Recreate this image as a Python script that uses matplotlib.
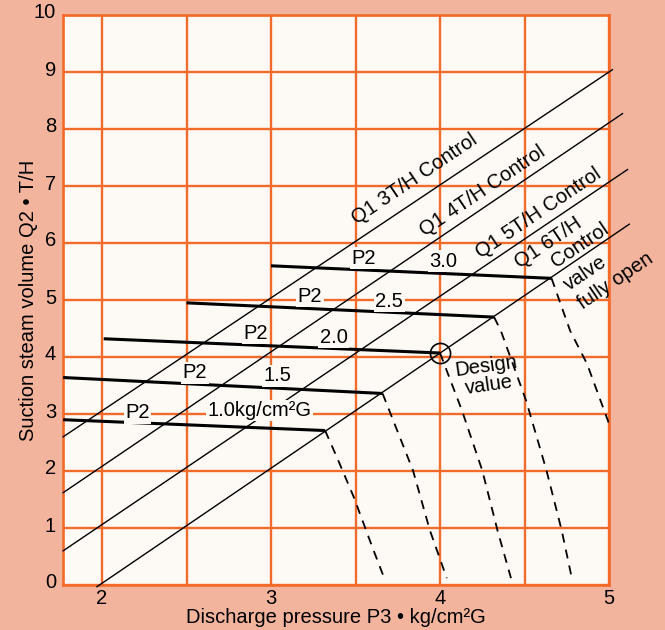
import matplotlib.pyplot as plt
import matplotlib.transforms as mtransforms
import numpy as np

# Q1 control lines (diagonals): start / end points
q1_labels = ['Q1 3T/H Control', 'Q1 4T/H Control', 'Q1 5T/H Control']
q1_start_x = [1.77, 1.77, 1.77, 1.97]
q1_start_y = [2.60, 1.62, 0.60, -0.03]
q1_end_x = [5.02, 5.08, 5.11, 5.12]
q1_end_y = [9.04, 8.27, 7.29, 6.33]

# P2 constant lines (thick)
p2_levels = ['1.0kg/cm²G', '1.5', '2.0', '2.5', '3.0']
p2_start_x = [1.77, 1.77, 2.01, 2.50, 3.00]
p2_start_y = [2.90, 3.64, 4.32, 4.95, 5.60]
p2_end_x = [3.32, 3.66, 4.00, 4.32, 4.66]
p2_end_y = [2.71, 3.36, 4.07, 4.70, 5.38]

# dashed curves dropping from each corner
dash_x = [
    [3.32, 3.39, 3.49, 3.60, 3.67],
    [3.66, 3.74, 3.84, 3.94, 4.04],
    [4.00, 4.13, 4.25, 4.34, 4.42],
    [4.32, 4.36, 4.51, 4.63, 4.72, 4.78],
    [4.66, 4.77, 4.87, 5.01],
]
dash_y = [
    [2.71, 2.24, 1.54, 0.66, 0.12],
    [3.36, 2.76, 2.01, 0.96, 0.12],
    [4.07, 3.06, 2.01, 0.96, 0.12],
    [4.70, 4.46, 3.23, 2.01, 0.96, 0.12],
    [5.38, 4.46, 3.88, 2.75],
]

design_x, design_y = 4.0, 4.07

xticks = [2, 3, 4, 5]
yticks = list(range(0, 11))

salmon = '#F3B49D'
paper = '#FDF9F4'
grid_c = '#F26B2A'
fs = 14.5

plt.rcParams['font.family'] = ['Liberation Sans', 'DejaVu Sans']

fig = plt.figure(figsize=(6.65, 6.3), dpi=100)
fig.patch.set_facecolor(salmon)
ax = fig.add_axes([63/665, 1-585/630, 546/665, 570/630])
ax.set_facecolor(paper)
ax.set_xlim(1.769, 5.0)
ax.set_ylim(0, 10)

# grid
for gx in np.arange(2.0, 5.01, 0.5):
    ax.axvline(gx, color=grid_c, lw=1.7, zorder=1)
for gy in range(0, 11):
    ax.axhline(gy, color=grid_c, lw=1.7, zorder=1)
for s in ax.spines.values():
    s.set_color(grid_c)
    s.set_linewidth(1.9)

# diagonals
for i in range(len(q1_start_x)):
    ax.plot([q1_start_x[i], q1_end_x[i]], [q1_start_y[i], q1_end_y[i]],
            color='black', lw=1.0, zorder=3, clip_on=False)

# P2 lines
for i in range(len(p2_levels)):
    ax.plot([p2_start_x[i], p2_end_x[i]], [p2_start_y[i], p2_end_y[i]],
            color='black', lw=2.2, zorder=3, solid_capstyle='butt')

# dashed curves
for xs, ys in zip(dash_x, dash_y):
    ax.plot(xs, ys, color='black', lw=1.3, ls=(0, (5, 4)), zorder=3)

# design value marker
ax.plot(design_x, design_y, 'o', ms=14.5, mfc='none', mec='black', mew=1.2, zorder=4)
ax.text(4.28, 3.67, 'Design\nvalue', fontsize=fs, ha='center', va='center',
        rotation=8, linespacing=1.0, zorder=5)

# P2 labels
box = dict(facecolor=paper, edgecolor='none', pad=1.0)
p2_pos = [(2.21, 3.02), (2.55, 3.72), (2.91, 4.42), (3.23, 5.07), (3.55, 5.73)]
val_pos = [(2.93, 3.06), (3.04, 3.67), (3.37, 4.35), (3.70, 4.98), (4.02, 5.68)]
for i in range(len(p2_levels)):
    ax.text(p2_pos[i][0], p2_pos[i][1], 'P2', fontsize=fs, ha='center',
            va='center', bbox=box, zorder=5)
    ax.text(val_pos[i][0], val_pos[i][1], p2_levels[i], fontsize=fs, ha='center',
            va='center', bbox=box, zorder=5)

# diagonal labels
ang = 34
q1_pos = [(3.85, 7.13), (4.25, 6.91), (4.58, 6.52)]
for lab, (tx, ty) in zip(q1_labels, q1_pos):
    ax.text(tx, ty, lab, fontsize=fs, rotation=ang, ha='center', va='center',
            rotation_mode='anchor', zorder=5)
for lab, tx, ty in [('Q1 6T/H', 4.64, 6.01), ('Control', 4.83, 5.96),
                    ('valve', 4.86, 5.47), ('fully open', 5.04, 5.33)]:
    ax.text(tx, ty, lab, fontsize=fs, rotation=ang, ha='center', va='center',
            rotation_mode='anchor', zorder=5, clip_on=False)

ax.set_xticks(xticks)
ax.set_yticks(yticks)
ax.tick_params(length=0, labelsize=fs, pad=5)
ax.tick_params(axis='x', pad=3)
# y tick labels sit a little above their grid lines
shift = mtransforms.ScaledTranslation(0, 4/100, fig.dpi_scale_trans)
for lbl in ax.get_yticklabels():
    lbl.set_transform(lbl.get_transform() + shift)
ax.set_xlabel('Discharge pressure P3 • kg/cm²G', fontsize=fs, labelpad=0)
ax.set_ylabel('Suction steam volume Q2 • T/H', fontsize=fs, labelpad=-3)

fig.savefig('out.png', dpi=100, facecolor=salmon)
